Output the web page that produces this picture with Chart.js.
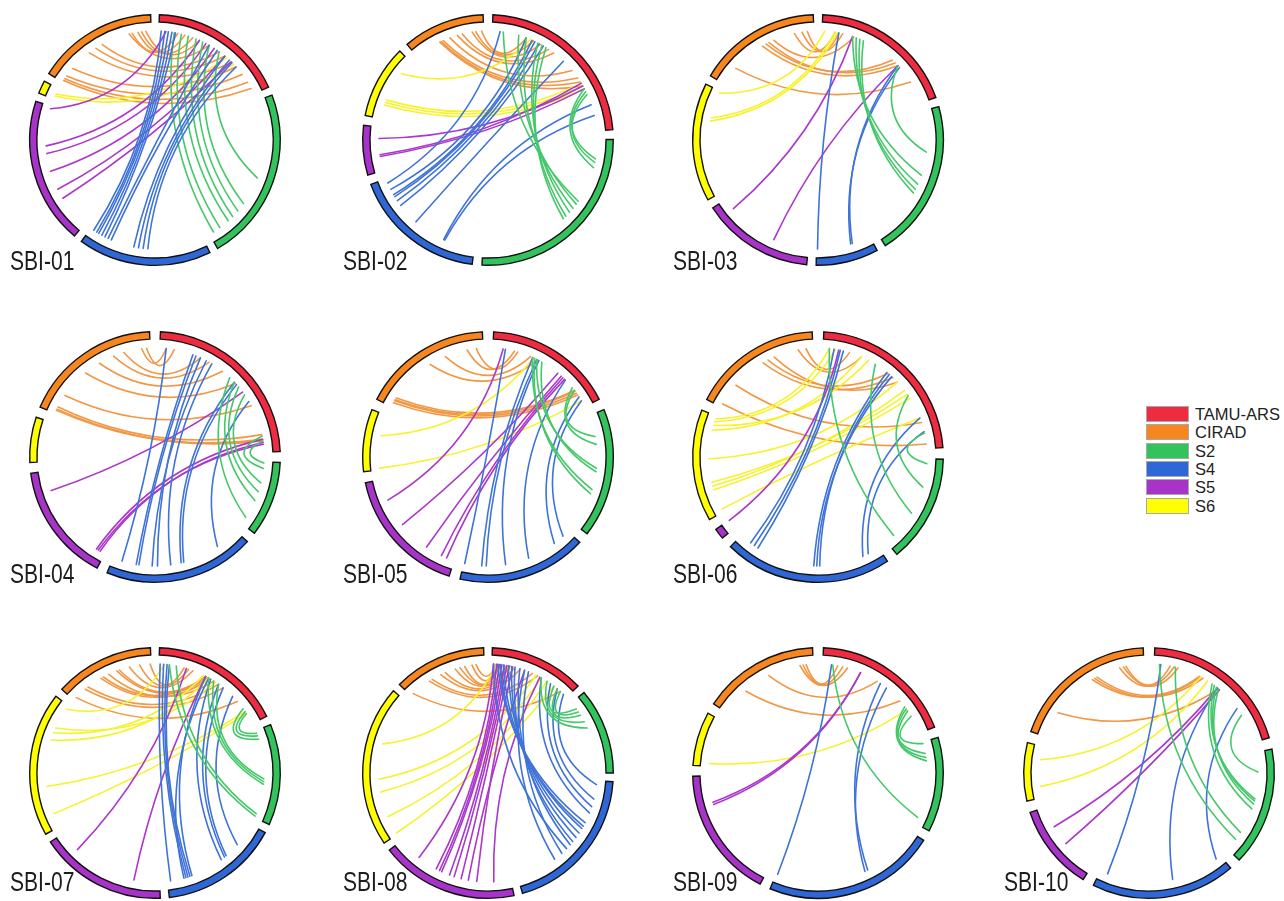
<!DOCTYPE html>
<html>
<head>
<meta charset="utf-8">
<script src="https://cdn.jsdelivr.net/npm/chart.js@4.4.1/dist/chart.umd.min.js"></script>
<style>
    body { margin: 0; background: #fff; width: 1284px; height: 901px; position: relative; overflow: hidden;
           font-family: "Liberation Sans", Arial, sans-serif; }
    .panel { position: absolute; }
    .label { position: absolute; font-size: 27px; line-height: 27px; color: #1c1c1c; white-space: nowrap;
             transform: scaleX(0.78); transform-origin: 0 0; }
    #legend { position: absolute; left: 1146px; top: 405px; }
    .item { height: 18.3px; display: flex; align-items: center; }
    .box { width: 41px; height: 14px; border: 1px solid #a8a8a8; box-sizing: content-box; }
    .name { margin-left: 6px; font-size: 16.5px; line-height: 16px; color: #222; }
</style>
</head>
<body>
<div id="legend"></div>
<script>
// groups, as in the legend
const groupNames = ['TAMU-ARS', 'CIRAD', 'S2', 'S4', 'S5', 'S6'];
const groupCodes = ['T', 'C', '2', '4', '5', '6'];
const ringColors = ['#ee2b40', '#f7861e', '#33c35c', '#2f67d6', '#a733c9', '#ffff00'];
const linkColors = ['#ee2b40', '#f29744', '#45c86a', '#3f73d8', '#ab38cc', '#f6f22c'];

// segment order around the ring, clockwise from 12 o'clock
const ringOrder = ['T', '2', '4', '5', '6', 'C'];

const panelNames = ['SBI-01', 'SBI-02', 'SBI-03', 'SBI-04', 'SBI-05', 'SBI-06', 'SBI-07', 'SBI-08', 'SBI-09', 'SBI-10'];

// segment lengths in ring order (T, S2, S4, S5, S6, CIRAD)
const sizes01 = [63, 81, 62, 68, 6, 56];
const sizes02 = [83, 93, 62, 23, 34, 38];
const sizes03 = [68, 73, 29, 52, 55, 57];
const sizes04 = [85, 35, 70, 55, 21, 64];
const sizes05 = [60, 60, 60, 60, 29, 60];
const sizes06 = [83, 50, 78, 5, 52, 60];
const sizes07 = [61, 47, 55, 59, 67, 46];
const sizes08 = [44, 40, 70, 64, 75, 43];
const sizes09 = [66, 44, 80, 61, 25, 54];
const sizes10 = [71, 55, 67, 40, 27, 68];

// links: [group, position in its segment (0-1), other group, position in that segment]
const links01 = [
    ['C',0.82,'T',0.16],['C',0.875,'T',0.22],['C',0.91,'T',0.29],['C',0.95,'T',0.35],['C',0.79,'T',0.44],['C',0.52,'T',0.54],
    ['C',0.45,'T',0.60],['C',0.375,'T',0.68],['C',0.16,'T',0.73],['C',0.07,'T',0.81],['C',0.04,'T',0.89],['C',0.02,'T',0.95],
    ['6',0.3,'T',0.70],['6',0.5,'T',0.62],
    ['5',0.98,'T',0.06],['5',0.69,'T',0.35],['5',0.63,'T',0.41],['5',0.49,'T',0.49],['5',0.34,'T',0.60],['5',0.26,'T',0.67],
    ['2',0.97,'T',0.13],['2',0.92,'T',0.19],['2',0.85,'T',0.25],['2',0.81,'T',0.32],['2',0.76,'T',0.38],['2',0.70,'T',0.44],['2',0.51,'T',0.54],
    ['4',0.97,'T',0.02],['4',0.94,'T',0.05],['4',0.92,'T',0.08],['4',0.89,'T',0.11],['4',0.86,'T',0.14],['4',0.83,'T',0.44],
    ['4',0.80,'T',0.52],['4',0.60,'T',0.60],['4',0.56,'T',0.65],['4',0.52,'T',0.68],['4',0.48,'T',0.73]
];
const links02 = [
    ['C',0.97,'T',0.22],['C',0.89,'T',0.27],['C',0.84,'T',0.32],['C',0.70,'T',0.38],['C',0.63,'T',0.42],['C',0.52,'T',0.58],
    ['C',0.42,'T',0.64],['C',0.39,'T',0.67],['C',0.37,'T',0.70],
    ['6',0.77,'T',0.25],['6',0.30,'T',0.68],['6',0.26,'T',0.70],['6',0.22,'T',0.72],
    ['5',0.74,'T',0.70],['5',0.37,'T',0.68],['5',0.33,'T',0.72],
    ['4',0.96,'T',0.05],['4',0.90,'T',0.22],['4',0.85,'T',0.26],['4',0.83,'T',0.28],['4',0.79,'T',0.31],['4',0.74,'T',0.34],
    ['4',0.55,'T',0.50],['4',0.27,'T',0.83],['4',0.26,'T',0.90],
    ['2',0.37,'T',0.07],['2',0.39,'T',0.17],['2',0.42,'T',0.22],['2',0.45,'T',0.30],['2',0.48,'T',0.33],['2',0.50,'T',0.36],
    ['2',0.11,'T',0.74],['2',0.16,'T',0.72],['2',0.13,'T',0.76]
];
const links03 = [
    ['C',0.82,'T',0.10],['C',0.89,'T',0.16],['C',0.94,'T',0.13],['C',0.62,'T',0.25],['C',0.54,'T',0.60],['C',0.57,'T',0.63],
    ['C',0.50,'T',0.66],['C',0.18,'T',0.82],
    ['6',0.98,'T',0.02],['6',0.73,'T',0.10],['6',0.70,'T',0.12],
    ['5',0.88,'T',0.24],['5',0.36,'T',0.66],
    ['4',0.98,'T',0.13],['4',0.34,'T',0.66],['4',0.37,'T',0.68],
    ['2',0.30,'T',0.66],['2',0.47,'T',0.24],['2',0.54,'T',0.27],['2',0.58,'T',0.30],['2',0.61,'T',0.33]
];
const links04 = [
    ['C',0.93,'T',0.04],['C',0.97,'T',0.09],['C',0.78,'T',0.26],['C',0.69,'T',0.32],['C',0.56,'T',0.42],['C',0.42,'T',0.53],
    ['C',0.17,'T',0.70],['C',0.06,'T',0.89],['C',0.04,'T',0.92],['C',0.03,'T',0.93],
    ['5',0.81,'T',0.60],['5',0.05,'T',0.94],['5',0.07,'T',0.95],['5',0.09,'T',0.92],
    ['4',0.93,'T',0.04],['4',0.82,'T',0.21],['4',0.80,'T',0.23],['4',0.70,'T',0.30],['4',0.66,'T',0.26],['4',0.56,'T',0.34],
    ['4',0.48,'T',0.52],['4',0.46,'T',0.54],['4',0.18,'T',0.67],
    ['2',0.89,'T',0.48],['2',0.60,'T',0.52],['2',0.46,'T',0.56],['2',0.32,'T',0.62],['2',0.10,'T',0.90],['2',0.02,'T',0.93]
];
const links05 = [
    ['C',0.86,'T',0.19],['C',0.94,'T',0.22],['C',0.66,'T',0.34],['C',0.51,'T',0.41],['C',0.09,'T',0.83],['C',0.07,'T',0.84],
    ['C',0.06,'T',0.86],['C',0.04,'T',0.88],
    ['6',0.62,'T',0.37],['6',0.03,'T',0.94],
    ['5',0.81,'T',0.09],['5',0.56,'T',0.62],['5',0.27,'T',0.66],['5',0.12,'T',0.68],['5',0.07,'T',0.70],
    ['4',0.99,'T',0.11],['4',0.84,'T',0.36],['4',0.80,'T',0.40],['4',0.63,'T',0.42],['4',0.42,'T',0.71],['4',0.16,'T',0.90],['4',0.06,'T',0.94],
    ['2',0.19,'T',0.83],['2',0.26,'T',0.80],['2',0.47,'T',0.40],['2',0.50,'T',0.45],['2',0.66,'T',0.36],['2',0.70,'T',0.38]
];
const links06 = [
    ['C',0.87,'T',0.25],['C',0.94,'T',0.17],['C',0.59,'T',0.45],['C',0.54,'T',0.49],['C',0.65,'T',0.53],['C',0.23,'T',0.83],['C',0.03,'T',0.97],
    ['6',0.97,'T',0.04],['6',0.94,'T',0.08],['6',0.90,'T',0.30],['6',0.85,'T',0.25],['6',0.56,'T',0.53],['6',0.32,'T',0.63],
    ['6',0.28,'T',0.60],['6',0.24,'T',0.66],['6',0.03,'T',0.80],
    ['5',0.95,'T',0.10],
    ['4',0.92,'T',0.07],['4',0.89,'T',0.11],['4',0.86,'T',0.13],['4',0.46,'T',0.44],['4',0.42,'T',0.46],['4',0.44,'T',0.48],
    ['4',0.12,'T',0.80],['4',0.08,'T',0.89],
    ['2',0.90,'T',0.04],['2',0.30,'T',0.64],['2',0.05,'T',0.90],['2',0.60,'T',0.35]
];
const links07 = [
    ['C',0.87,'T',0.26],['C',0.99,'T',0.22],['C',0.63,'T',0.42],['C',0.60,'T',0.44],['C',0.43,'T',0.42],['C',0.40,'T',0.46],
    ['C',0.22,'T',0.55],['C',0.18,'T',0.60],['C',0.04,'T',0.77],['C',0.75,'T',0.30],['C',0.50,'T',0.50],
    ['6',0.97,'T',0.05],['6',0.76,'T',0.40],['6',0.70,'T',0.45],['6',0.80,'T',0.52],['6',0.33,'T',0.88],['6',0.11,'T',0.90],
    ['5',0.81,'T',0.24],['5',0.23,'T',0.42],
    ['4',0.97,'T',0.01],['4',0.82,'T',0.04],['4',0.80,'T',0.07],['4',0.78,'T',0.09],['4',0.76,'T',0.42],['4',0.84,'T',0.45],
    ['4',0.44,'T',0.47],['4',0.40,'T',0.55],['4',0.38,'T',0.60],['4',0.23,'T',0.71],
    ['2',0.98,'T',0.09],['2',0.95,'T',0.15],['2',0.61,'T',0.45],['2',0.58,'T',0.50],['2',0.55,'T',0.55],['2',0.10,'T',0.85],
    ['2',0.06,'T',0.88],['2',0.03,'T',0.90]
];
const links08 = [
    ['C',0.76,'T',0.10],['C',0.85,'T',0.08],['C',0.90,'T',0.05],['C',0.64,'T',0.18],['C',0.70,'T',0.22],['C',0.51,'T',0.28],
    ['C',0.45,'T',0.35],['C',0.33,'T',0.50],['C',0.29,'T',0.57],['C',0.04,'T',0.90],
    ['6',0.66,'T',0.06],['6',0.41,'T',0.55],['6',0.32,'T',0.62],['6',0.14,'T',0.70],['6',0.01,'T',0.80],
    ['5',0.80,'T',0.02],['5',0.63,'T',0.06],['5',0.60,'T',0.09],['5',0.58,'T',0.12],['5',0.51,'T',0.15],['5',0.47,'T',0.18],
    ['5',0.41,'T',0.21],['5',0.35,'T',0.40],['5',0.28,'T',0.25],['5',0.14,'T',0.60],
    ['4',0.03,'T',0.95],['4',0.14,'T',0.85],['4',0.20,'T',0.75],['4',0.25,'T',0.62],['4',0.33,'T',0.07],['4',0.36,'T',0.10],
    ['4',0.38,'T',0.14],['4',0.42,'T',0.20],['4',0.46,'T',0.24],['4',0.50,'T',0.28],['4',0.53,'T',0.34],['4',0.57,'T',0.02],
    ['4',0.62,'T',0.45],['4',0.69,'T',0.40],
    ['2',0.39,'T',0.62],['2',0.10,'T',0.80],['2',0.20,'T',0.85],['2',0.30,'T',0.70],['2',0.15,'T',0.90]
];
const links09 = [
    ['C',0.87,'T',0.20],['C',0.93,'T',0.12],['C',0.90,'T',0.16],['C',0.55,'T',0.46],['C',0.28,'T',0.70],
    ['6',0.06,'T',0.79],
    ['5',0.75,'T',0.31],['5',0.77,'T',0.31],
    ['4',0.99,'T',0.07],['4',0.38,'T',0.49],['4',0.40,'T',0.55],
    ['2',0.92,'T',0.08],['2',0.02,'T',0.85],['2',0.14,'T',0.78],['2',0.19,'T',0.80],['2',0.23,'T',0.76]
];
const links10 = [
    ['C',0.81,'T',0.15],['C',0.84,'T',0.18],['C',0.86,'T',0.12],['C',0.58,'T',0.36],['C',0.60,'T',0.38],['C',0.62,'T',0.35],['C',0.21,'T',0.52],
    ['6',0.74,'T',0.36],['6',0.22,'T',0.42],
    ['5',0.72,'T',0.51],['5',0.45,'T',0.53],
    ['4',0.94,'T',0.05],['4',0.42,'T',0.51],['4',0.04,'T',0.72],
    ['2',0.88,'T',0.04],['2',0.80,'T',0.16],['2',0.55,'T',0.46],['2',0.45,'T',0.48],['2',0.47,'T',0.50],['2',0.50,'T',0.52],['2',0.19,'T',0.78]
];

const allSizes = [sizes01, sizes02, sizes03, sizes04, sizes05, sizes06, sizes07, sizes08, sizes09, sizes10];
const allLinks = [links01, links02, links03, links04, links05, links06, links07, links08, links09, links10];

// page layout: ring centres and label rows
const colX = [155, 488, 818, 1149];
const rowY = [140, 457, 773];
const labelTop = [248, 561, 869];
const cells = [[0, 0], [1, 0], [2, 0], [0, 1], [1, 1], [2, 1], [0, 2], [1, 2], [2, 2], [3, 2]];
const SIZE = 264;

// legend
const legendEl = document.getElementById('legend');
groupNames.forEach((name, i) => {
    const row = document.createElement('div');
    row.className = 'item';
    row.innerHTML = `<div class="box" style="background:${ringColors[i]}"></div><div class="name">${name}</div>`;
    legendEl.appendChild(row);
});

const chordPlugin = {
    id: 'chords',
    beforeDatasetsDraw(chart, args, opts) {
        const arcs = chart.getDatasetMeta(0).data;
        const ctx = chart.ctx;
        const cx = arcs[0].x, cy = arcs[0].y;
        const R = arcs[0].outerRadius;
        const rl = R * 0.87;

        function point(code, f) {
            const arc = arcs[ringOrder.indexOf(code) * 2];
            const a = arc.startAngle + f * (arc.endAngle - arc.startAngle);
            return [cx + rl * Math.cos(a), cy + rl * Math.sin(a)];
        }

        ctx.save();
        ctx.lineWidth = 1.6;
        ctx.lineCap = 'round';
        opts.links.forEach(l => {
            const p = point(l[0], l[1]);
            const q = point(l[2], l[3]);
            const mx = (p[0] + q[0]) / 2, my = (p[1] + q[1]) / 2;
            const d = Math.hypot(p[0] - q[0], p[1] - q[1]);
            const om = Math.hypot(cx - mx, cy - my);
            const depth = Math.min(0.15 * R, 0.45 * om, 0.6 * d);
            const k = om > 0.5 ? 2 * depth / om : 0;
            ctx.strokeStyle = linkColors[groupCodes.indexOf(l[0])];
            ctx.beginPath();
            ctx.moveTo(p[0], p[1]);
            ctx.quadraticCurveTo(mx + (cx - mx) * k, my + (cy - my) * k, q[0], q[1]);
            ctx.stroke();
        });
        ctx.restore();
    }
};

allSizes.forEach((sizes, i) => {
    const [c, r] = cells[i];
    const canvas = document.createElement('canvas');
    canvas.className = 'panel';
    canvas.width = SIZE;
    canvas.height = SIZE;
    canvas.style.left = (colX[c] - SIZE / 2) + 'px';
    canvas.style.top = (rowY[r] - SIZE / 2) + 'px';
    document.body.appendChild(canvas);

    const label = document.createElement('div');
    label.className = 'label';
    label.textContent = panelNames[i];
    label.style.left = (colX[c] - 145) + 'px';
    label.style.top = labelTop[r] + 'px';
    document.body.appendChild(label);

    // ring data: each segment followed by an empty gap slice
    const total = sizes.reduce((s, v) => s + v, 0);
    const gap = (360 - total) / sizes.length;
    const data = [], bg = [], bw = [];
    sizes.forEach((v, j) => {
        data.push(v, gap);
        bg.push(ringColors[groupCodes.indexOf(ringOrder[j])], 'rgba(0,0,0,0)');
        bw.push(1.4, 0);
    });

    new Chart(canvas, {
        type: 'doughnut',
        data: {
            labels: data.map((_, j) => j % 2 ? '' : groupNames[groupCodes.indexOf(ringOrder[j / 2])]),
            datasets: [{ data, backgroundColor: bg, borderColor: '#111', borderWidth: bw, borderJoinStyle: 'miter' }]
        },
        options: {
            responsive: false,
            animation: false,
            events: [],
            cutout: '94.2%',
            rotation: gap / 2,
            layout: { padding: 6 },
            plugins: {
                legend: { display: false },
                tooltip: { enabled: false },
                chords: { links: allLinks[i] }
            }
        },
        plugins: [chordPlugin]
    });
});
</script>
</body>
</html>
